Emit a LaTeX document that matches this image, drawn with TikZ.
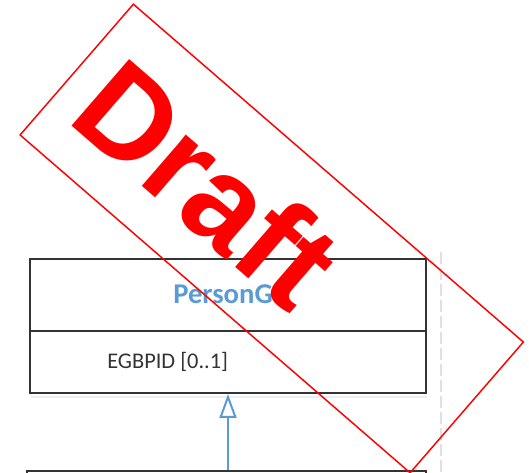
\documentclass[tikz,border=0pt]{standalone}
\usepackage{fontspec}
\usepackage{xcolor}
\usetikzlibrary{arrows.meta, positioning, calc}
\newfontfamily\umlfont{Carlito}
\newfontfamily\stampfont{Liberation Sans}
\definecolor{umlblue}{HTML}{5B9BD5}
\definecolor{umlline}{HTML}{333333}
\definecolor{stampred}{HTML}{FF0000}
\tikzset{
  umlbox/.style={draw=umlline, line width=1.5pt, rectangle, minimum width=297pt, inner sep=0pt},
  umltext/.style={font=\umlfont\fontsize{16.8}{18}\selectfont, text=umlline, inner sep=0pt},
  genarrow/.style={draw=umlblue, line width=1.5pt, -{Triangle[open, length=18pt, width=12.75pt, fill=white]}},
}

\begin{document}
\begin{tikzpicture}[x=0.75pt, y=-0.75pt]
\useasboundingbox (0,0) rectangle (529,473);

% class box
\node[umlbox, minimum height=54pt] (persongi) at (228,295) {};
\node[umlbox, minimum height=46.5pt] (attrs) at (228,362) {};
\draw[umlblue!15, line width=1.5pt] ($(attrs.south west)+(2,3)$) -- ($(attrs.south east)+(0,3)$);
\node[anchor=west, font=\umlfont\bfseries\fontsize{21.5}{24}\selectfont, text=umlblue, inner sep=0pt] (title) at (173,294) {PersonGI};
\node[umltext, anchor=west] (egbpid) at (107,362) {EGBPID [0..1]};

% subclass box (cut off)
\node[umlbox, minimum width=299pt, minimum height=45pt] (sub) at (226.5,501) {};

% generalisation
\draw[genarrow] (attrs.south |- sub.north) -- (attrs.south);

% separator
\draw[black!12, line width=1.5pt, dash pattern=on 9pt off 3pt] (441,252) -- (441,473);

% draft stamp
\begin{scope}[shift={(271.75,238.5)}, rotate=-40.9]
  \draw[stampred, line width=1.1pt] (-258,-86.5) rectangle (258,86.5);
  \node[font=\stampfont\bfseries\fontsize{96}{100}\selectfont, text=stampred, inner sep=0pt, rotate=-40.9] (draft) at (-84,0) {Draft};
\end{scope}
\end{tikzpicture}
\end{document}
